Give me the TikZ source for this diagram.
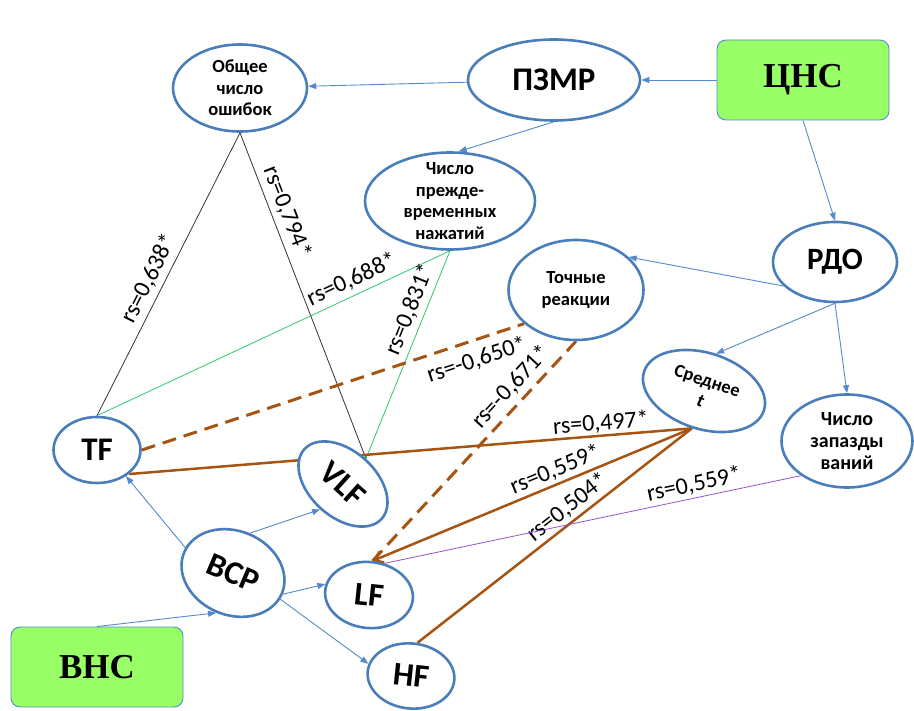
\documentclass[tikz,border=0pt]{standalone}
\usepackage{fontspec}
\setmainfont{Carlito}
\newfontfamily\timesfont{Liberation Serif}
\usetikzlibrary{positioning,shapes.geometric,arrows.meta,backgrounds}

\definecolor{ovalblue}{RGB}{74,126,187}
\definecolor{linkblue}{RGB}{84,138,205}
\definecolor{boxgreen}{RGB}{153,255,102}
\definecolor{corrbrown}{RGB}{166,84,18}
\definecolor{corrgreen}{RGB}{46,200,110}
\definecolor{corrviolet}{RGB}{150,82,200}

\begin{document}
\begin{tikzpicture}[x=1pt,y=-1pt,
	oval/.style={ellipse, draw=ovalblue, line width=2.6pt, fill=white, inner sep=-40pt, align=center, font=\bfseries\fontsize{18.5}{21.5}\selectfont},
	bigoval/.style={oval, font=\bfseries\fontsize{33}{36}\selectfont},
	nsbox/.style={rectangle, rounded corners=9pt, draw=linkblue, line width=0.9pt, fill=boxgreen, minimum width=172pt, minimum height=80pt, font=\timesfont\bfseries\fontsize{35}{40}\selectfont},
	link/.style={draw=linkblue, line width=0.9pt, -{Triangle[length=8pt,width=6pt]}},
	corr/.style={line width=0.8pt},
	brownline/.style={draw=corrbrown, line width=2.5pt},
	browndash/.style={brownline, line width=3pt, dash pattern=on 14pt off 8pt},
	rs/.style={font=\fontsize{24}{28}\selectfont, sloped, above, inner sep=5pt}]
	\useasboundingbox (0,0) rectangle (914,711);

	\node[oval, minimum width=134pt, minimum height=87pt] (oshib) at (240,88) {Общее\\число\\ошибок};
	\node[oval, minimum width=172pt, minimum height=81pt, font=\bfseries\fontsize{33}{36}\selectfont] (pzmr) at (554,80) {ПЗМР};
	\node[nsbox] (cns) at (803,80) {ЦНС};
	\node[oval, minimum width=170pt, minimum height=97pt] (prezh) at (450,201) {Число\\прежде-\\временных\\нажатий};
	\node[oval, minimum width=124pt, minimum height=80pt, font=\bfseries\fontsize{31}{34}\selectfont] (rdo) at (835,262) {РДО};
	\node[oval, minimum width=135pt, minimum height=100pt] (toch) at (576,290) {Точные\\реакции};
	\node[oval, minimum width=126pt, minimum height=76pt, rotate=-18] (sred) at (704,391) {Среднее\\\textit{t}};
	\node[oval, minimum width=131pt, minimum height=93pt, font=\bfseries\fontsize{20}{22}\selectfont] (zap) at (847,441) {Число\\запазды\\ваний};
	\node[bigoval, minimum width=87pt, minimum height=66pt] (tf) at (97,450) {TF};
	\node[bigoval, minimum width=104pt, minimum height=66pt, rotate=-42] (vlf) at (343,484) {VLF};
	\node[bigoval, minimum width=106pt, minimum height=84pt, rotate=-23] (vsr) at (233,573) {ВСР};
	\node[bigoval, minimum width=88pt, minimum height=66pt, rotate=-6] (lf) at (369,595) {LF};
	\node[bigoval, minimum width=87pt, minimum height=65pt, rotate=-6] (hf) at (411,676) {HF};
	\node[nsbox] (vns) at (97,667) {ВНС};

	\begin{pgfonlayer}{background}
	% blue links
	\draw[link] (pzmr) -- (oshib);
	\draw[link] (cns) -- (pzmr);
	\draw[link] (pzmr.south) -- (prezh.80);
	\draw[link] (cns.south) -- (rdo.north);
	\draw[link] (rdo.-155) -- (toch.32);
	\draw[link] (rdo.south) -- (sred.north);
	\draw[link] (rdo.south) -- (zap.north);
	\draw[link] (vns.north) -- (vsr.south);
	\draw[link] (vsr.175) -- (tf.-42);
	\draw[link] (vsr.north) -- (vlf.south);
	\draw[link] (vsr.east) -- (lf.172);
	\draw[link] (vsr.-6) -- (hf.170);
	% correlations
	\draw[corr, draw=black!80] (tf.north) -- node[rs, pos=0.46] {rs=0,638*} (oshib.south);
	\draw[corr, draw=black!80] (oshib.south) -- node[rs, pos=0.26] {rs=0,794*} (vlf.north);
	\draw[corr, draw=corrgreen] (tf.north) -- node[rs, pos=0.74] {rs=0,688*} (prezh.south);
	\draw[corr, draw=corrgreen] (vlf.north) -- node[rs, pos=0.69] {rs=0,831*} (prezh.south);
	\draw[browndash] (tf.east) -- node[rs, below, pos=0.86, inner sep=8pt] {rs=-0,650*} (toch.-147);
	\draw[browndash] (lf.north) -- node[rs, pos=0.74] {rs=-0,671*} (toch.south);
	\draw[brownline] (tf.-37) -- node[rs, pos=0.84, inner sep=1pt] {rs=0,497*} (sred.south);
	\draw[brownline, {Straight Barb[length=8pt,width=12pt]}-] (lf.north) -- node[rs, pos=0.59, inner sep=3pt] {rs=0,559*} (sred.south);
	\draw[brownline] (hf.85) -- node[rs, pos=0.58, inner sep=3pt] {rs=0,504*} (sred.south);
	\draw[corr, draw=corrviolet] (lf.70) -- node[rs, pos=0.75, inner sep=3pt] {rs=0,559*} (zap.-143);
	\end{pgfonlayer}
\end{tikzpicture}
\end{document}
